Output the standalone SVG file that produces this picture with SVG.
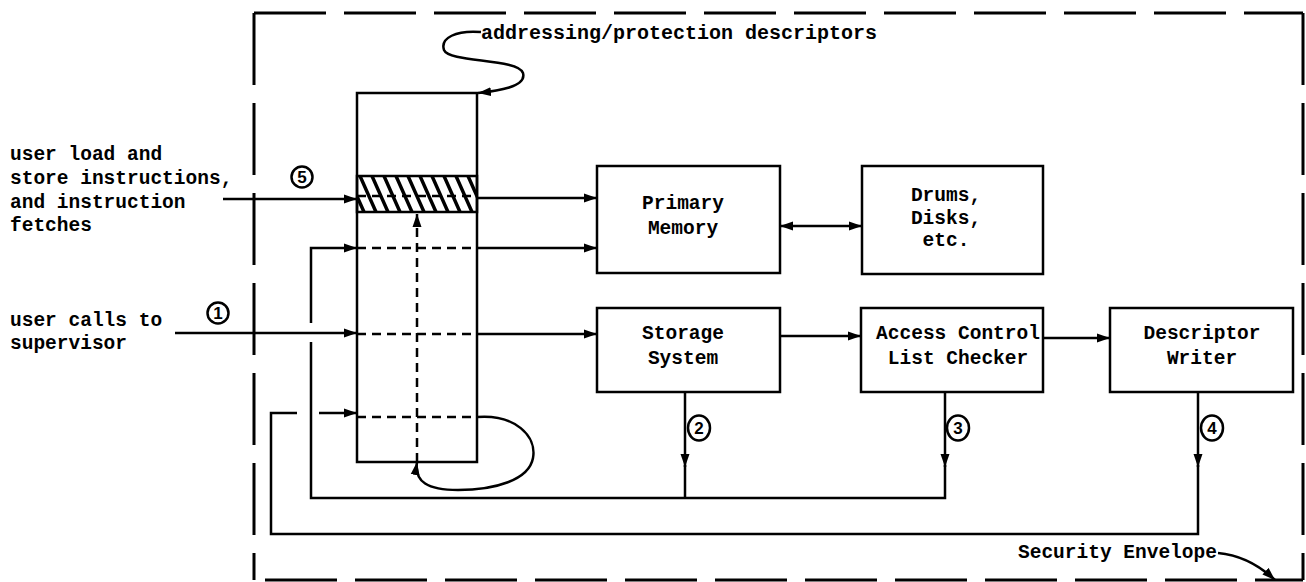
<svg xmlns="http://www.w3.org/2000/svg" width="1306" height="582" viewBox="0 0 1306 582">
<style>
  .box { fill: #fff; stroke: #000; stroke-width: 2.5; }
  .ln { fill: none; stroke: #000; stroke-width: 2.5; }
  .dash { fill: none; stroke: #000; stroke-width: 2.5; stroke-dasharray: 9 6; }
  .env { fill: none; stroke: #000; stroke-width: 3; stroke-dasharray: 72 18; }
  .t { font-family: "Liberation Mono", "Courier New", monospace; font-weight: bold; font-size: 19.5px; fill: #000; }
  .c { text-anchor: middle; }
  .num { font-family: "Liberation Sans", Arial, sans-serif; font-weight: bold; font-size: 17px; text-anchor: middle; fill: #000; }
  .circ { fill: #fff; stroke: #000; stroke-width: 2.5; }
</style>
<defs>
  <marker id="ah" markerUnits="userSpaceOnUse" markerWidth="14" markerHeight="10" refX="13" refY="5" orient="auto-start-reverse">
    <path d="M0,0.5 L13,5 L0,9.5 z" fill="#000"/>
  </marker>
  <pattern id="hatch" patternUnits="userSpaceOnUse" x="0" y="176" width="12" height="36">
    <path d="M-12,0 L4,36 M0,0 L16,36 M12,0 L28,36" stroke="#000" stroke-width="3.5"/>
  </pattern>
</defs>
<rect width="1306" height="582" fill="#fff"/>

<!-- Security envelope -->
<g id="envelope">
  <path class="env" d="M254,13 L1303,13"/>
  <path class="env" d="M254,13 L254,580"/>
  <path class="env" d="M1303,13 L1303,580"/>
  <path class="env" d="M265,580 L1303,580"/>
  <text class="t" x="1018" y="558">Security Envelope</text>
</g>

<!-- Descriptor table -->
<g id="descriptor-table">
  <rect class="box" x="357" y="93" width="120" height="369"/>
  <rect x="357" y="176" width="120" height="36" fill="url(#hatch)" stroke="#000" stroke-width="2.5"/>
  <path class="dash" d="M357,196 L477,196"/>
  <path class="dash" d="M357,248 L477,248"/>
  <path class="dash" d="M357,334 L477,334"/>
  <path class="dash" d="M357,417 L477,417"/>
</g>

<g id="primary-memory">
  <rect class="box" x="597" y="166" width="183" height="107"/>
  <text class="t c" x="683" y="209">Primary</text>
  <text class="t c" x="683" y="234">Memory</text>
</g>

<g id="drums">
  <rect class="box" x="862" y="166" width="181" height="108"/>
  <text class="t c" x="946" y="201">Drums,</text>
  <text class="t c" x="946" y="224">Disks,</text>
  <text class="t c" x="946" y="246">etc.</text>
</g>

<g id="storage-system">
  <rect class="box" x="597" y="308" width="183" height="84"/>
  <text class="t c" x="683" y="339">Storage</text>
  <text class="t c" x="683" y="364">System</text>
</g>

<g id="acl-checker">
  <rect class="box" x="861" y="308" width="182" height="84"/>
  <text class="t c" x="958" y="339">Access Control</text>
  <text class="t c" x="958" y="364">List Checker</text>
</g>

<g id="descriptor-writer">
  <rect class="box" x="1110" y="308" width="183" height="84"/>
  <text class="t c" x="1202" y="339">Descriptor</text>
  <text class="t c" x="1202" y="364">Writer</text>
</g>

<!-- Labels -->
<g id="labels">
  <text class="t" x="10" y="160">user load and</text>
  <text class="t" x="10" y="184">store instructions,</text>
  <text class="t" x="10" y="208">and instruction</text>
  <text class="t" x="10" y="231">fetches</text>
  <text class="t" x="10" y="326">user calls to</text>
  <text class="t" x="10" y="349">supervisor</text>
  <text class="t" x="481" y="39" style="font-size:20px">addressing/protection descriptors</text>
</g>

<!-- Connectors -->
<g id="connectors">
  <path class="ln" d="M223,199 L357,199" marker-end="url(#ah)"/>
  <path class="ln" d="M175,333 L357,333" marker-end="url(#ah)"/>
  <path class="ln" d="M477,198 L597,198" marker-end="url(#ah)"/>
  <path class="ln" d="M477,248 L597,248" marker-end="url(#ah)"/>
  <path class="ln" d="M780,226 L862,226" marker-start="url(#ah)" marker-end="url(#ah)"/>
  <path class="ln" d="M477,334 L597,334" marker-end="url(#ah)"/>
  <path class="ln" d="M780,336 L861,336" marker-end="url(#ah)"/>
  <path class="ln" d="M1043,338 L1110,338" marker-end="url(#ah)"/>
  <path class="ln" d="M685,392 L685,467" marker-end="url(#ah)"/>
  <path class="ln" d="M685,465 L685,498"/>
  <path class="ln" d="M945,392 L945,467" marker-end="url(#ah)"/>
  <path class="ln" d="M1198,392 L1198,467" marker-end="url(#ah)"/>
  <path class="ln" d="M945,465 L945,498 L311,498 L311,342"/>
  <path class="ln" d="M311,323 L311,248 L357,248" marker-end="url(#ah)"/>
  <path class="ln" d="M1198,465 L1198,534 L271,534 L271,413 L297,413"/>
  <path class="ln" d="M319,413 L357,413" marker-end="url(#ah)"/>
  <path class="ln" d="M477,417 C515,414 537,436 533,458 C529,480 495,490 458,490 C428,490 414,482 417,462" marker-end="url(#ah)"/>
  <path class="dash" d="M417,462 L417,214" marker-end="url(#ah)"/>
  <path class="ln" d="M481,32 C456,30 440,38 444,50 C449,63 518,58 523,73 C527,87 497,91 478,93" marker-end="url(#ah)"/>
  <path class="ln" d="M1218,553 C1240,555 1260,566 1275,580" marker-end="url(#ah)"/>
</g>

<!-- circled numbers -->
<g id="numbers">
  <circle class="circ" cx="302" cy="177" r="10.5"/><text class="num" x="302" y="183">5</text>
  <circle class="circ" cx="218" cy="313" r="10.5"/><text class="num" x="218" y="319">1</text>
  <ellipse class="circ" cx="699" cy="428" rx="11" ry="12.5"/><text class="num" x="699" y="434">2</text>
  <ellipse class="circ" cx="958" cy="428" rx="11" ry="12.5"/><text class="num" x="958" y="434">3</text>
  <ellipse class="circ" cx="1212" cy="428" rx="11" ry="12.5"/><text class="num" x="1212" y="434">4</text>
</g>
</svg>
